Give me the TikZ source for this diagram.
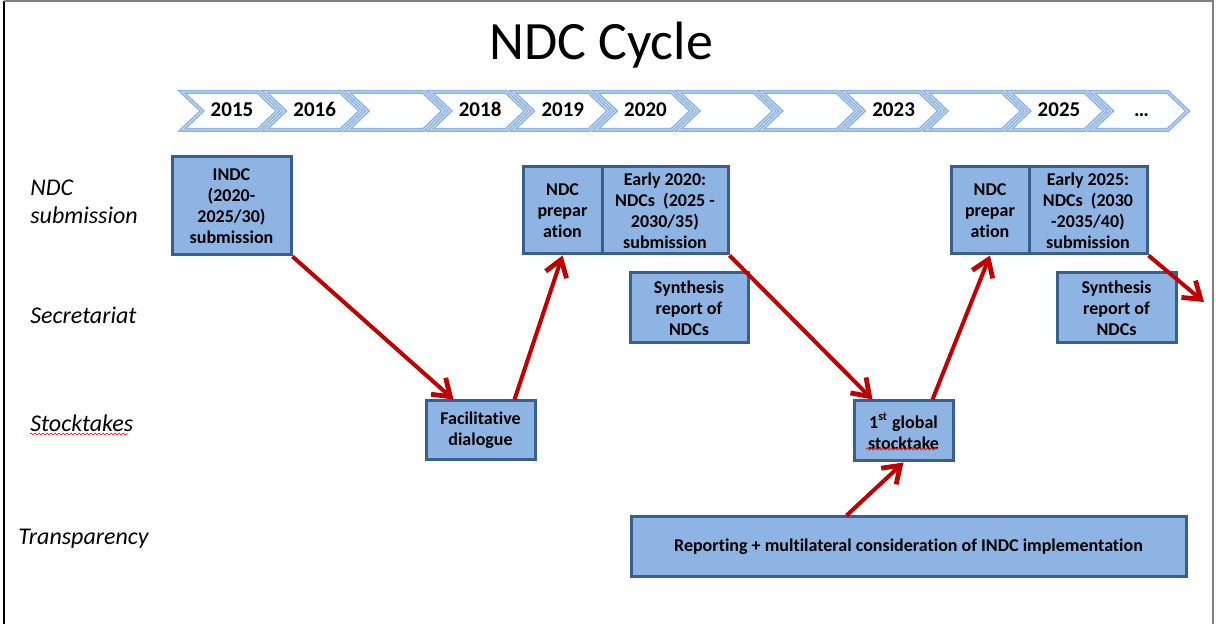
\documentclass[tikz,border=0pt]{standalone}
\usepackage{fontspec}
\setmainfont{Carlito}[Ligatures=NoCommon]
\usetikzlibrary{arrows.meta,calc,decorations.pathmorphing}

\definecolor{boxfill}{HTML}{8EB4E3}
\definecolor{boxedge}{HTML}{3A5F8C}
\definecolor{chevblue}{HTML}{8DB4E2}
\definecolor{chevlight}{HTML}{C6D9F1}
\definecolor{arrred}{HTML}{C00000}

\tikzset{
  box/.style={draw=boxedge, fill=boxfill, line width=1.5pt, align=center, inner sep=0pt,
    font=\bfseries\fontsize{9}{10.5}\selectfont},
  chev/.style={draw=chevblue, line width=0.75pt, double=chevlight, double distance=0.5pt, line join=miter},
  rowlabel/.style={anchor=west, align=left, inner sep=0pt, font=\itshape\fontsize{12}{14}\selectfont},
  arr/.style={draw=arrred, line width=2pt,
    -{Straight Barb[length=8pt, width=11pt, line width=2.4pt]}},
  spell/.style={draw=red, line width=0.35pt, decorate, decoration={snake, amplitude=0.5pt, segment length=2pt}}
}

\begin{document}
\begin{tikzpicture}[x=0.5pt, y=-0.5pt]
\useasboundingbox (0,0) rectangle (1216,624);

% Frame
\draw[line width=1.1pt] (4,624) -- (4,1);
\draw[gray, line width=0.6pt] (4,1) -- (1213,1) -- (1213,624);

% Title
\node[anchor=base, font=\fontsize{27}{30}\selectfont] (title) at (601,60) {NDC Cycle};

% Chevrons
\foreach \lab [count=\i from 0] in
    {2015,2016,{},2018,2019,2020,{},{},2023,{},2025,\dots} {
  \pgfmathsetmacro{\cx}{182+82.7*\i}
  \draw[chev] (\cx,92) -- ++(76,0) -- ++(20,19) -- ++(-20,19) -- ++(-76,0) -- ++(20,-19) -- cycle;
  \node[anchor=base, inner sep=0pt, font=\bfseries\fontsize{10.5}{12}\selectfont] (yr\i) at (\cx+50,117) {\lab};
}

% Row labels
\node[rowlabel] (lsub) at (30,202) {NDC\\submission};
\node[rowlabel] (lsec) at (30,315) {Secretariat};
\node[rowlabel] (lstk) at (30,423) {Stocktakes};
\node[rowlabel] (ltra) at (18,539) {Transparency};
\draw[spell] (30,434) -- (128,434);

% Boxes
\node[box, minimum width=59.5pt, minimum height=49pt] (indc) at (231.5,206)
  {INDC\\(2020-\\2025/30)\\submission};
\node[box, minimum width=39.5pt, minimum height=43.5pt] (prep1) at (562.5,210.5)
  {NDC\\prepar\\ation};
\node[box, minimum width=63pt, minimum height=43.5pt] (early1) at (665,210.5)
  {Early 2020:\\NDCs~~(2025 -\\2030/35)\\submission};
\node[box, minimum width=59pt, minimum height=35pt] (synth1) at (689,308)
  {Synthesis\\report of\\NDCs};
\node[box, minimum width=54.5pt, minimum height=29.5pt] (facil) at (480.5,430.5)
  {Facilitative\\dialogue};
\node[box, minimum width=49.5pt, minimum height=30pt] (gst) at (903.5,431)
  {1\textsuperscript{st} global\\stocktake};
\draw[spell] (866,449) -- (938,449);
\node[box, minimum width=39pt, minimum height=43.5pt] (prep2) at (990,210.5)
  {NDC\\prepar\\ation};
\node[box, minimum width=59pt, minimum height=43.5pt] (early2) at (1088,210.5)
  {Early 2025:\\NDCs~~(2030\\-2035/40)\\submission};
\node[box, minimum width=59.5pt, minimum height=35pt] (synth2) at (1116.5,308)
  {Synthesis\\report of\\NDCs};
\node[box, minimum width=277.5pt, minimum height=30pt] (report) at (908.5,547)
  {Reporting + multilateral consideration of INDC implementation};

% Arrows
\coordinate (next) at (1204,302);
\draw[arr] (indc.south east) -- ($(facil.north)+(-27,0)$);
\draw[arr] ($(facil.north)+(34,0)$) -- (prep1.south);
\draw[arr] (early1.south east) -- ($(gst.north)+(-31,0)$);
\draw[arr] ($(gst.north)+(29,0)$) -- (prep2.south);
\draw[arr] (early2.south east) -- (next);
\draw[arr] ($(report.north)+(-62,0)$) -- (gst.south);

\end{tikzpicture}
\end{document}
